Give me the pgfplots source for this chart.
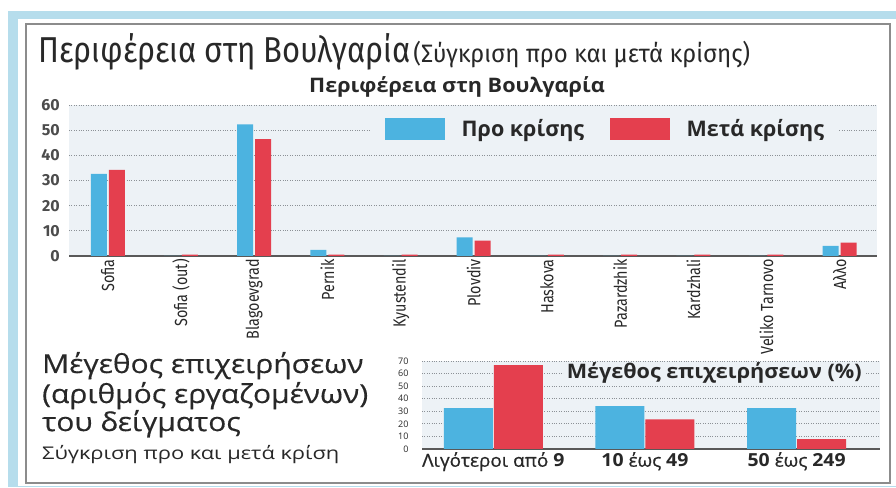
\documentclass[border=0pt]{standalone}
\usepackage{pgfplots}
\pgfplotsset{compat=1.18}
\usepackage{fontspec}
\setmainfont{Fira Sans}
\newfontfamily\cond[FakeStretch=0.86]{Fira Sans}
\newfontfamily\condl[FakeStretch=0.82]{Fira Sans}
\newfontfamily\condb[FakeStretch=0.95]{Fira Sans}
\newfontfamily\osans{Open Sans}
\newfontfamily\osw[FakeStretch=1.15,FakeBold=0.4]{Open Sans}
\newfontfamily\osww[FakeStretch=1.25]{Open Sans}
\newfontfamily\osb[FakeStretch=1.08]{Open Sans}
\newfontfamily\osl[FakeStretch=1.05,FakeBold=0.8]{Open Sans}
\definecolor{frameblue}{RGB}{182,221,236}
\definecolor{plotbg}{RGB}{237,242,246}
\definecolor{barblue}{RGB}{76,179,224}
\definecolor{barred}{RGB}{228,63,78}
\definecolor{txt}{RGB}{40,40,40}
\definecolor{gridc}{RGB}{140,145,150}
\begin{document}
\begin{tikzpicture}[x=1pt,y=1pt]
\useasboundingbox (0pt,0pt) rectangle (896pt,487pt);
\fill[white] (0pt,0pt) rectangle (896pt,487pt);
\fill[frameblue] (8pt,0pt) rectangle (896pt,476pt);
\fill[white] (18pt,1pt) rectangle (896pt,468pt);
\draw[black!45, line width=2pt] (26pt,4pt) rectangle (890pt,463pt);
% main title
\node[anchor=base west, inner sep=0pt, text=txt] at (38pt,424pt)
 {{\cond\fontsize{36}{36}\selectfont Περιφέρεια στη Βουλγαρία} {\condb\fontsize{25.2}{25.2}\selectfont (Σύγκριση προ και μετά κρίσης)}};
\node[anchor=base, inner sep=0pt, text=txt] at (457pt,394pt)
 {\osb\bfseries\fontsize{20}{20}\selectfont Περιφέρεια στη Βουλγαρία};
% top chart
\begin{axis}[
 at={(69pt,231pt)}, anchor=south west,
 scale only axis, width=808pt, height=151pt,
 xmin=-0.53, xmax=10.51, ymin=0, ymax=60,
 ybar, bar width=16pt,
 axis background/.style={fill=plotbg},
 axis x line*=bottom, axis y line*=left,
 y axis line style={draw=none},
 x axis line style={draw=black!65, line width=1.4pt, -},
 major tick length=0pt,
 ytick={0,10,...,60},
 ymajorgrids, grid style={dotted, gridc, line width=0.9pt},
 xtick={0,...,10},
 xticklabels={Sofia, Sofia (out), Blagoevgrad, Pernik, Kyustendil, Plovdiv, Haskova, Pazardzhik, Kardzhali, Veliko Tarnovo, Αλλο},
 x tick label style={rotate=90, anchor=east, font=\condl\fontsize{17.5}{17.5}\selectfont, text=txt, inner sep=3pt},
 y tick label style={font=\bfseries\fontsize{16}{16}\selectfont, text=black!70, inner sep=4pt, xshift=-5pt},
 /pgf/number format/assume math mode=true,
 legend columns=2,
 legend style={at={(axis description cs:0.663,0.841)}, anchor=center, draw=none, fill=plotbg,
   font=\osans\bfseries\fontsize{21.5}{21.5}\selectfont, text=txt,
   nodes={inner xsep=0pt},
   column sep=17pt,
   inner xsep=14pt, inner ysep=3pt},
]
\addplot[fill=barblue, draw=none, bar shift=-9pt, forget plot] coordinates {(0,32.6) (1,0) (2,52.3) (3,2.4) (4,0) (5,7.4) (6,0) (7,0) (8,0) (9,0) (10,4.0)};
\addplot[fill=barred, draw=none, bar shift=9pt, forget plot] coordinates {(0,34.2) (1,0.5) (2,46.4) (3,0.5) (4,0.5) (5,6.1) (6,0.5) (7,0.5) (8,0.5) (9,0.5) (10,5.3)};
\addlegendimage{legend image code/.code={\fill[barblue] (0pt,-10.5pt) rectangle (59pt,10.5pt);}}
\addlegendentry{Προ κρίσης\rule{9pt}{0pt}}
\addlegendimage{legend image code/.code={\fill[barred] (0pt,-10.5pt) rectangle (59pt,10.5pt);}}
\addlegendentry{Μετά κρίσης}
\end{axis}
% bottom left text
\node[anchor=base west, inner sep=0pt, text=txt] at (42pt,114pt) {\osw\fontsize{26}{26}\selectfont Μέγεθος επιχειρήσεων};
\node[anchor=base west, inner sep=0pt, text=txt] at (42pt,84pt) {\osw\fontsize{26}{26}\selectfont (αριθμός εργαζομένων)};
\node[anchor=base west, inner sep=0pt, text=txt] at (42pt,56pt) {\osw\fontsize{26}{26}\selectfont του δείγματος};
\node[anchor=base west, inner sep=0pt, text=txt] at (42pt,28pt) {\osww\fontsize{17.5}{17.5}\selectfont Σύγκριση προ και μετά κρίση};
% bottom chart
\begin{axis}[
 at={(422pt,38pt)}, anchor=south west,
 scale only axis, width=458pt, height=88pt,
 xmin=-0.47, xmax=2.55, ymin=0, ymax=70,
 ybar=1pt, bar width=49pt,
 axis background/.style={fill=plotbg},
 axis x line*=bottom, axis y line*=left,
 y axis line style={draw=none},
 x axis line style={draw=black!65, line width=1.4pt, -},
 major tick length=0pt,
 ytick={0,10,...,70},
 ymajorgrids, grid style={dotted, gridc, line width=0.9pt},
 xtick={0,1,2},
 xticklabels={{Λιγότεροι από {\osb\bfseries 9}}, {{\osb\bfseries 10} έως {\osb\bfseries 49}}, {{\osb\bfseries 50} έως {\osb\bfseries 249}}},
 x tick label style={font=\osl\fontsize{18}{18}\selectfont, text=txt, inner sep=3pt},
 y tick label style={font=\osans\fontsize{9}{9}\selectfont, text=txt, xshift=-10pt},
 /pgf/number format/assume math mode=true,
]
\addplot[fill=barblue, draw=none] coordinates {(0,32.5) (1,34.1) (2,32.5)};
\addplot[fill=barred, draw=none] coordinates {(0,66.7) (1,23.5) (2,7.9)};
\node[fill=plotbg, inner xsep=3pt, inner ysep=0pt, text=txt, font=\osb\bfseries\fontsize{20}{20}\selectfont] at (axis description cs:0.638,0.865) {Μέγεθος επιχειρήσεων (\%)};
\end{axis}
\end{tikzpicture}
\end{document}
